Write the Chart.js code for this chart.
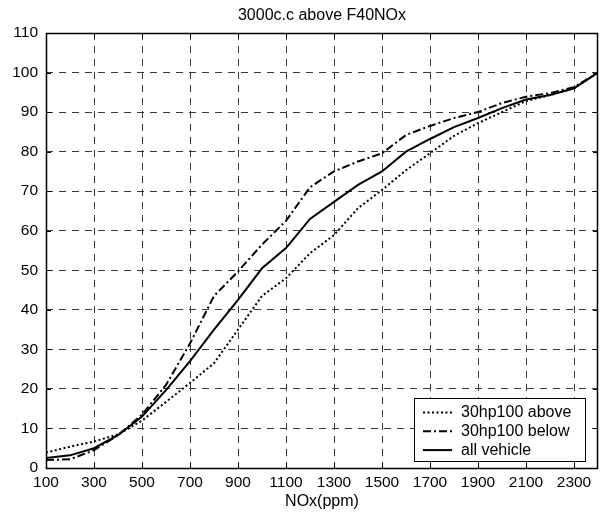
<!DOCTYPE html>
<html>
<head>
<meta charset="utf-8">
<script src="https://cdn.jsdelivr.net/npm/chart.js@4/dist/chart.umd.min.js"></script>
<style>
  html, body { margin: 0; padding: 0; background: #fff; }
  #wrap { width: 608px; height: 518px; position: relative; }
</style>
</head>
<body>
<div id="wrap"><canvas id="chart"></canvas></div>
<script>
// NOx values (ppm) the curves are sampled at
const nox = [100,200,300,400,500,600,700,800,900,1000,1100,1200,1300,1400,1500,1600,1700,1800,1900,2000,2100,2200,2300,2400];
// cumulative percentages
const above30hp = [3.9,5.4,6.7,8.5,12,16.7,21.5,26.5,35,43.5,48,54.3,58.9,65.7,70.3,75.3,79.6,84,87.2,90,92.8,94.3,96,100];
const below30hp = [2,2.2,4.5,8.3,13.5,21,31.5,43.5,49.7,56.5,62.5,71,75,77.5,79.6,84.2,86.5,88.5,90,92.3,93.9,94.8,96.3,100];
const allVehicle = [2.5,3.2,5,8.3,13,19.7,27,35,42.5,50.5,55.6,63,67.3,71.6,75,80,83.2,86.2,88.5,91,93.2,94.3,96,100];
const seriesNames = ["30hp100 above", "30hp100 below", "all vehicle"];
const xTicks = [100,300,500,700,900,1100,1300,1500,1700,1900,2100,2300];
const yTicks = [0,10,20,30,40,50,60,70,80,90,100,110];

const FONT = '"Liberation Sans", Arial, sans-serif';

function points(vals){
    return nox.map((x, i) => ({x: x, y: vals[i]}));
}

// box round the plot, small inward ticks and the legend inside the axes
const boxPlugin = {
    id: 'box',
    afterDatasetsDraw(chart){
        const ctx = chart.ctx;
        const a = chart.chartArea;
        const xs = chart.scales.x, ys = chart.scales.y;
        ctx.save();
        ctx.strokeStyle = '#000';
        ctx.lineWidth = 1;
        ctx.setLineDash([]);
        ctx.beginPath();
        xTicks.forEach(v => {
            const px = Math.round(xs.getPixelForValue(v)) + 0.5;
            ctx.moveTo(px, a.bottom); ctx.lineTo(px, a.bottom - 5);
            ctx.moveTo(px, a.top); ctx.lineTo(px, a.top + 5);
        });
        yTicks.forEach(v => {
            const py = Math.round(ys.getPixelForValue(v)) + 0.5;
            ctx.moveTo(a.left, py); ctx.lineTo(a.left + 5, py);
            ctx.moveTo(a.right, py); ctx.lineTo(a.right - 5, py);
        });
        ctx.stroke();
        ctx.lineWidth = 1.5;
        ctx.strokeRect(Math.round(a.left) + 0.5, Math.round(a.top) + 0.5,
                       Math.round(a.right - a.left) - 1, Math.round(a.bottom - a.top));

        // legend
        const lx = a.right - 184, ly = a.bottom - 70, lw = 171, lh = 63;
        ctx.fillStyle = '#fff';
        ctx.fillRect(lx, ly, lw, lh);
        ctx.lineWidth = 1;
        ctx.strokeRect(lx + 0.5, ly + 0.5, lw, lh);
        ctx.font = '16px ' + FONT;
        ctx.textBaseline = 'middle';
        ctx.fillStyle = '#000';
        chart.data.datasets.forEach((ds, i) => {
            const cy = ly + 14.5 + i * 18.8;
            ctx.setLineDash(ds.borderDash || []);
            ctx.lineWidth = ds.borderWidth;
            ctx.beginPath();
            ctx.moveTo(lx + 9, cy); ctx.lineTo(lx + 38, cy);
            ctx.stroke();
            ctx.setLineDash([]);
            ctx.fillText(ds.label, lx + 47, cy);
        });
        ctx.restore();
    }
};

new Chart(document.getElementById("chart"), {
    type: 'line',
    data: {
        datasets: [
            { label: seriesNames[0], data: points(above30hp), borderColor: '#000', borderWidth: 2, borderDash: [2, 2.5] },
            { label: seriesNames[1], data: points(below30hp), borderColor: '#000', borderWidth: 2, borderDash: [8, 3, 2, 3] },
            { label: seriesNames[2], data: points(allVehicle), borderColor: '#000', borderWidth: 2 }
        ]
    },
    options: {
        responsive: true,
        maintainAspectRatio: false,
        animation: false,
        layout: { padding: { left: 0, right: 10, top: 0, bottom: 0 } },
        elements: { point: { radius: 0 }, line: { tension: 0 } },
        plugins: {
            legend: { display: false },
            tooltip: { enabled: false },
            title: {
                display: true,
                text: '3000c.c above F40NOx',
                fullSize: false,
                color: '#000',
                font: { family: FONT, size: 16, weight: 'normal' },
                padding: { top: 6.4, bottom: 7.4 }
            }
        },
        scales: {
            x: {
                type: 'linear',
                min: 100, max: 2400,
                afterBuildTicks: s => { s.ticks = xTicks.map(v => ({value: v})); },
                afterFit: s => { s.height = 50; },
                grid: { color: '#3a3a3a', drawTicks: false },
                border: { display: false, dash: [7, 6] },
                ticks: { color: '#000', padding: 5, maxRotation: 0, autoSkip: false,
                         callback: v => String(v),
                         font: { family: FONT, size: 15.5 } },
                title: { display: true, text: 'NOx(ppm)', color: '#000',
                         font: { family: FONT, size: 16 }, padding: { top: 0, bottom: 6.5 } }
            },
            y: {
                min: 0, max: 110,
                afterBuildTicks: s => { s.ticks = yTicks.map(v => ({value: v})); },
                afterFit: s => { s.width = 46; },
                grid: { color: '#3a3a3a', drawTicks: false },
                border: { display: false, dash: [7, 6] },
                ticks: { color: '#000', padding: 8, callback: v => String(v),
                         font: { family: FONT, size: 15.5 } }
            }
        }
    },
    plugins: [boxPlugin]
});
</script>
</body>
</html>
